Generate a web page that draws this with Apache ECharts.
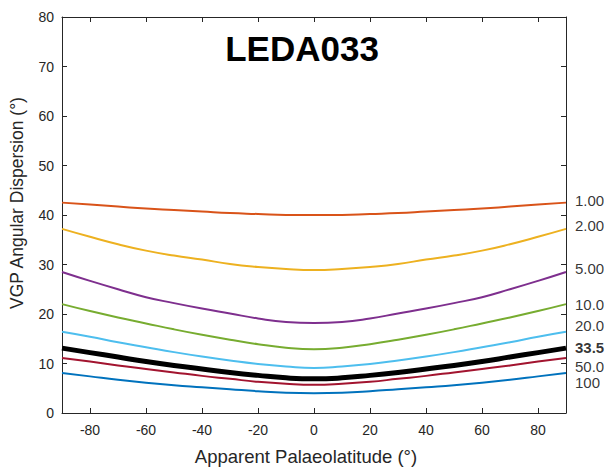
<!DOCTYPE html>
<html>
<head>
<meta charset="utf-8">
<script src="https://cdn.jsdelivr.net/npm/echarts@6/dist/echarts.min.js"></script>
<style>
  html, body { margin: 0; padding: 0; background: #fff; }
  #chart { width: 608px; height: 471px; }
</style>
</head>
<body>
<div id="chart"></div>
<script>
var lats = [-90,-80,-70,-60,-50,-40,-30,-20,-10,0,10,20,30,40,50,60,70,80,90];
var xTicks = [-80,-60,-40,-20,0,20,40,60,80];

var names = ['1.00','2.00','5.00','10.0','20.0','33.5','50.0','100'];
var colors = ['#D95319','#EDB120','#7E2F8E','#77AC30','#4DBEEE','#000000','#A2142F','#0072BD'];

var s1 = [42.5,42.1,41.7,41.3,41.0,40.7,40.4,40.2,40.0,40.0,40.0,40.2,40.4,40.7,41.0,41.3,41.7,42.1,42.5];
var s2 = [37.2,35.6,34.1,32.8,31.8,31.0,30.1,29.5,29.1,28.9,29.1,29.5,30.1,31.0,31.8,32.8,34.1,35.6,37.2];
var s5 = [28.5,26.7,25.0,23.4,22.2,21.1,20.1,19.1,18.4,18.2,18.4,19.1,20.1,21.1,22.2,23.4,25.0,26.7,28.5];
var s10 = [22.0,20.6,19.3,18.1,16.9,15.8,14.8,13.9,13.2,12.9,13.2,13.9,14.8,15.8,16.9,18.1,19.3,20.6,22.0];
var s20 = [16.4,15.4,14.3,13.3,12.3,11.4,10.6,9.9,9.4,9.1,9.4,9.9,10.6,11.4,12.3,13.3,14.3,15.4,16.4];
var s33 = [13.1,12.2,11.3,10.4,9.6,8.9,8.2,7.6,7.1,6.9,7.1,7.6,8.2,8.9,9.6,10.4,11.3,12.2,13.1];
var s50 = [11.1,10.4,9.6,8.9,8.2,7.5,6.9,6.3,5.9,5.7,5.9,6.3,6.9,7.5,8.2,8.9,9.6,10.4,11.1];
var s100 = [8.1,7.4,6.7,6.1,5.6,5.2,4.8,4.4,4.1,4.0,4.1,4.4,4.8,5.2,5.6,6.1,6.7,7.4,8.1];
var seriesValues = [s1,s2,s5,s10,s20,s33,s50,s100];

// y positions (data units) of the right-hand labels
var labelY = [43.0,37.8,29.1,22.0,17.6,13.3,9.3,6.1];

var axisColor = '#262626';
var font = 'Liberation Sans, Arial, sans-serif';
var chart = echarts.init(document.getElementById('chart'), null, { renderer: 'svg' });

var series = seriesValues.map(function(vals, i) {
  return {
    name: names[i],
    type: 'line',
    data: vals.map(function(v, j) { return [lats[j], v]; }),
    smooth: true,
    symbol: 'none',
    lineStyle: { color: colors[i], width: names[i] === '33.5' ? 5 : 2 },
    z: names[i] === '33.5' ? 3 : 2
  };
});

series.push({
  type: 'scatter',
  symbolSize: 0,
  silent: true,
  clip: false,
  data: labelY.map(function(y, i) {
    return {
      value: [90, y],
      label: {
        show: true,
        position: 'right',
        distance: 9,
        formatter: names[i],
        color: '#000',
        fontSize: 15,
        fontFamily: font,
        fontWeight: names[i] === '33.5' ? 'bold' : 'normal'
      }
    };
  })
});

var tickStyle = { show: true, inside: true, length: 5, lineStyle: { color: axisColor } };

chart.setOption({
  animation: false,
  title: {
    text: 'LEDA033',
    left: 297,
    top: 26,
    textAlign: 'center',
    textStyle: { fontSize: 35, fontWeight: 'bold', color: '#000', fontFamily: font }
  },
  grid: { left: 62, right: 42, top: 17, bottom: 58, outerBoundsMode: 'none' },
  xAxis: [{
    type: 'value',
    min: -90,
    max: 90,
    name: 'Apparent Palaeolatitude (°)',
    nameLocation: 'middle',
    nameGap: 34,
    nameTextStyle: { fontSize: 18.5, color: axisColor, fontFamily: font, padding: [0, 16, 0, 0] },
    axisLine: { show: true, onZero: false, lineStyle: { color: axisColor } },
    axisTick: Object.assign({ customValues: xTicks }, tickStyle),
    axisLabel: { customValues: xTicks, color: axisColor, fontSize: 14, margin: 10, fontFamily: font },
    splitLine: { show: false }
  }, {
    type: 'value',
    position: 'top',
    min: -90,
    max: 90,
    axisLine: { show: true, onZero: false, lineStyle: { color: axisColor } },
    axisTick: Object.assign({ customValues: xTicks }, tickStyle),
    axisLabel: { show: false },
    splitLine: { show: false }
  }],
  yAxis: [{
    type: 'value',
    min: 0,
    max: 80,
    interval: 10,
    name: 'VGP Angular Dispersion (°)',
    nameLocation: 'middle',
    nameGap: 36,
    nameTextStyle: { fontSize: 17.5, color: axisColor, fontFamily: font, padding: [0, 0, 0, 24] },
    axisLine: { show: true, onZero: false, lineStyle: { color: axisColor } },
    axisTick: tickStyle,
    axisLabel: { color: axisColor, fontSize: 14, margin: 8, fontFamily: font },
    splitLine: { show: false }
  }, {
    type: 'value',
    position: 'right',
    min: 0,
    max: 80,
    interval: 10,
    axisLine: { show: true, onZero: false, lineStyle: { color: axisColor } },
    axisTick: tickStyle,
    axisLabel: { show: false },
    splitLine: { show: false }
  }],
  series: series
});
</script>
</body>
</html>
